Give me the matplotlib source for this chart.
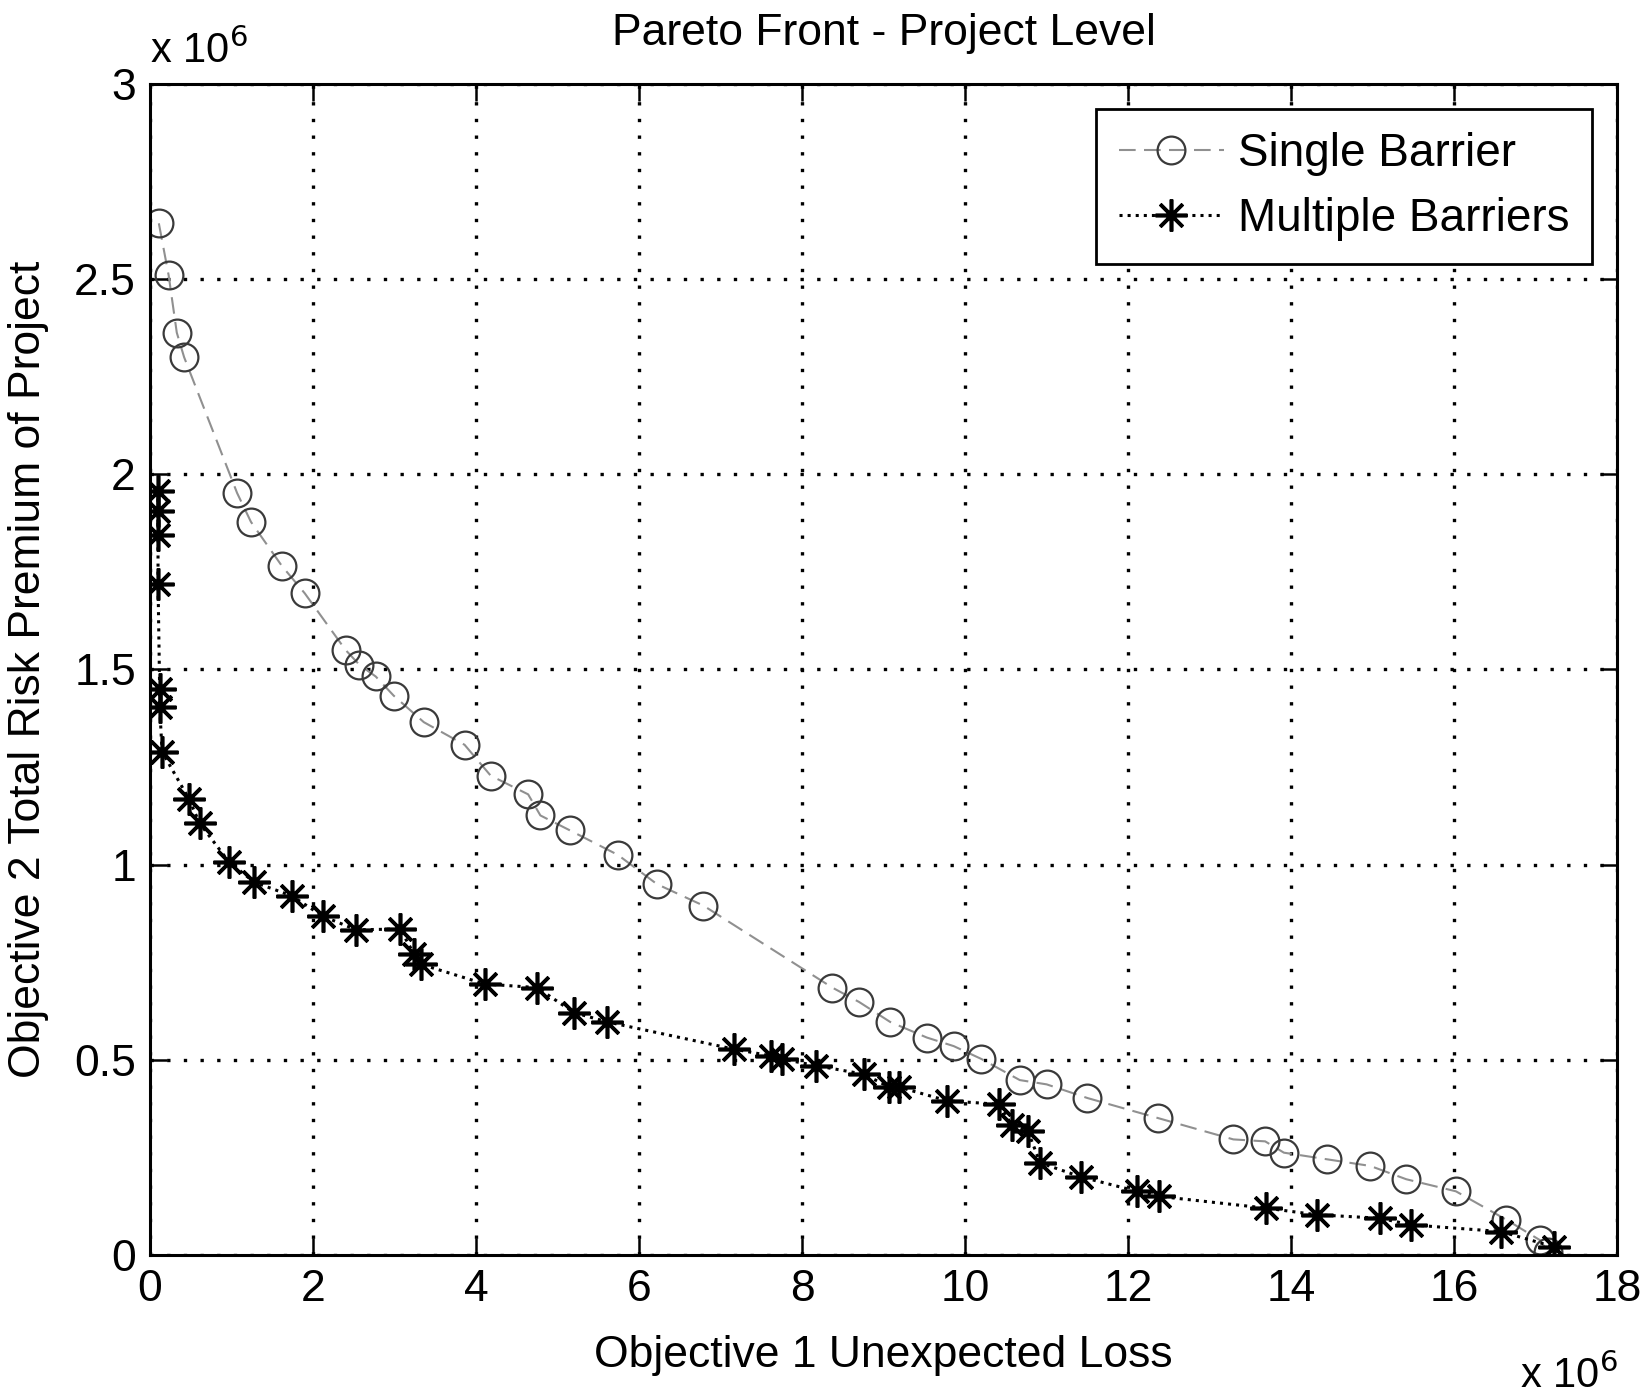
import matplotlib
matplotlib.use("Agg")
import matplotlib.pyplot as plt
from matplotlib.ticker import FormatStrFormatter

# values in units of 1e6
single_x = [0.11, 0.23, 0.33, 0.42, 1.07, 1.24, 1.62, 1.90, 2.40, 2.57, 2.77, 2.99,
            3.36, 3.86, 4.18, 4.64, 4.79, 5.15, 5.74, 6.22, 6.79, 8.37, 8.70, 9.08,
            9.53, 9.86, 10.2, 10.67, 11.0, 11.5, 12.36, 13.29, 13.68, 13.91, 14.44,
            14.97, 15.41, 16.02, 16.64, 17.05, 17.15]
single_y = [2.643, 2.51, 2.363, 2.30, 1.952, 1.878, 1.765, 1.695, 1.55, 1.512, 1.482, 1.433,
            1.365, 1.307, 1.228, 1.18, 1.126, 1.088, 1.025, 0.95, 0.895, 0.685, 0.648, 0.597,
            0.557, 0.535, 0.502, 0.448, 0.437, 0.402, 0.351, 0.296, 0.291, 0.262, 0.245,
            0.228, 0.194, 0.163, 0.09, 0.038, 0.008]

multi_x = [0.10, 0.10, 0.10, 0.10, 0.12, 0.12, 0.15, 0.48, 0.61, 0.97, 1.28, 1.74,
           2.12, 2.53, 3.07, 3.24, 3.32, 4.11, 4.75, 5.2, 5.61, 7.17, 7.62, 7.75,
           8.17, 8.76, 9.07, 9.19, 9.78, 10.41, 10.57, 10.77, 10.92, 11.42, 12.11,
           12.38, 13.69, 14.31, 15.09, 15.47, 16.57, 17.22]
multi_y = [1.958, 1.906, 1.844, 1.72, 1.449, 1.405, 1.289, 1.168, 1.106, 1.007, 0.955, 0.92,
           0.868, 0.833, 0.835, 0.771, 0.745, 0.694, 0.685, 0.621, 0.597, 0.527, 0.51, 0.502,
           0.485, 0.463, 0.43, 0.43, 0.395, 0.386, 0.334, 0.317, 0.236, 0.20, 0.163,
           0.15, 0.12, 0.103, 0.094, 0.077, 0.06, 0.021]

plt.rcParams['font.family'] = ['Liberation Sans', 'DejaVu Sans']
fs = 32

fig = plt.figure(figsize=(16.47, 13.95), dpi=100)
ax = fig.add_axes([0.091, 0.1004, 0.891, 0.8394])

ax.plot(single_x, single_y, linestyle=(0, (8, 4)), color='#909090', linewidth=1.5,
        marker='o', markersize=20, markerfacecolor='none',
        markeredgecolor='#3a3a3a', markeredgewidth=1.6, label='Single Barrier')
ax.plot(multi_x, multi_y, linestyle=':', color='black', linewidth=2.2,
        marker=(8, 2, 0), markersize=23, markerfacecolor='black',
        markeredgecolor='black', markeredgewidth=2.6, label='Multiple Barriers')

ax.set_xlim(0, 18)
ax.set_ylim(0, 3)
ax.set_xticks(range(0, 19, 2))
ax.set_yticks([0, 0.5, 1, 1.5, 2, 2.5, 3])
ax.yaxis.set_major_formatter(FormatStrFormatter('%g'))
ax.grid(True, linestyle=(0, (1, 4)), color='black', linewidth=2.4)
ax.tick_params(direction='in', length=12, width=1.8, top=True, right=True,
               labelsize=fs, pad=10)
for s in ax.spines.values():
    s.set_linewidth(2.2)

ax.set_title('Pareto Front - Project Level', fontsize=fs, pad=28)
ax.set_xlabel('Objective 1 Unexpected Loss', fontsize=fs, labelpad=18)
ax.set_ylabel('Objective 2 Total Risk Premium of Project', fontsize=fs, labelpad=18)

ax.text(0.0, 1.01, r'x 10$^6$', transform=ax.transAxes, fontsize=fs - 2,
        ha='left', va='bottom')
ax.text(1.0, -0.085, r'x 10$^6$', transform=ax.transAxes, fontsize=fs - 2,
        ha='right', va='top')

leg = ax.legend(loc='upper right', fontsize=fs + 1, fancybox=False,
                edgecolor='black', framealpha=1, borderaxespad=0.55,
                handlelength=2.3, handletextpad=0.3, borderpad=0.5,
                labelspacing=0.45)
leg.get_frame().set_linewidth(2.0)

fig.savefig('out.png', dpi=100)
